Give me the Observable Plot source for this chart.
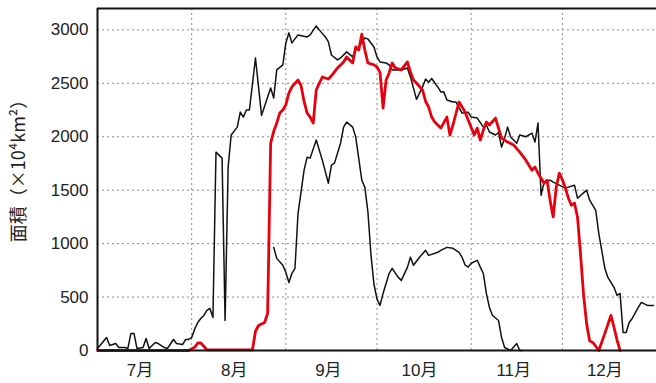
<!DOCTYPE html>
<html>
<head>
<meta charset="utf-8">
<script src="https://cdn.jsdelivr.net/npm/d3@7"></script>
<script src="https://cdn.jsdelivr.net/npm/@observablehq/plot@0.6"></script>
<style>
  html, body { margin: 0; padding: 0; background: #fff; }
</style>
</head>
<body>
<div id="chart"></div>
<script>
// ---- data ----
const yTicks = [0, 500, 1000, 1500, 2000, 2500, 3000];
const monthStarts = ["2010-08-01", "2010-09-01", "2010-10-01", "2010-11-01", "2010-12-01"];
const monthLabelDates = ["2010-07-15", "2010-08-15", "2010-09-15", "2010-10-15", "2010-11-15", "2010-12-15"];
const monthLabels = ["7月", "8月", "9月", "10月", "11月", "12月"];
const yLabel = "面積（×10⁴km²）";

// black series 1 (long season)
const seriesADates = ["07-01","07-04","07-05","07-07","07-08","07-10","07-11","07-12","07-13","07-14","07-16","07-17","07-18","07-20","07-21","07-23","07-24","07-26","07-27","07-29","07-30","07-31",
"08-01","08-02","08-03","08-04","08-05","08-06","08-07","08-08","08-09","08-11","08-12","08-13","08-14","08-16","08-17","08-18","08-19","08-20","08-22","08-24","08-26","08-27","08-28","08-29","08-31",
"09-01","09-02","09-03","09-05","09-08","09-09","09-11","09-12","09-14","09-15","09-16","09-18","09-19","09-21","09-23","09-24","09-25","09-27","09-28","09-30",
"10-01","10-02","10-04","10-05","10-06","10-07","10-09","10-11","10-12","10-14","10-16","10-17","10-18","10-19","10-21","10-22","10-23","10-24","10-26","10-27","10-29","10-30","10-31",
"11-01","11-03","11-05","11-06","11-07","11-09","11-10","11-11","11-12","11-13","11-14","11-16","11-17","11-19","11-21","11-22","11-23","11-24","11-25","11-27","11-28","11-30",
"12-02","12-05","12-06","12-09","12-10","12-12","12-13","12-15","12-16","12-18","12-19","12-20","12-21","12-22","12-23","12-24","12-26","12-27","12-29","12-31"];
const seriesAValues = [19,122,47,65,28,28,19,160,160,19,28,112,19,75,65,28,19,103,65,56,103,103,
122,200,262,300,328,375,394,309,1856,1800,281,1716,2016,2090,2231,2184,2250,2250,2737,2200,2372,2456,2362,2625,2672,
2878,2972,2878,2953,2934,2953,3037,3000,2934,2887,2765,2719,2737,2794,2747,2812,2840,2925,2915,2840,
2747,2700,2690,2672,2625,2625,2625,2644,2560,2350,2466,2540,2510,2545,2466,2419,2420,2344,2325,2325,2222,2222,2230,
2184,2175,2090,2110,2044,2016,2040,1903,1987,2090,1997,1940,2016,2000,2034,1950,2128,1453,1575,1594,1575,1547,
1519,1547,1425,1500,1406,1312,1097,769,684,591,516,534,169,169,262,300,403,450,422,422];

// black series 2 (short season)
const seriesBDates = ["08-28","08-29","08-31","09-01","09-02","09-03","09-04","09-05","09-07","09-08","09-09","09-11","09-13","09-15","09-16","09-17","09-19","09-20","09-21","09-23","09-24","09-26","09-27","09-28","09-29","09-30",
"10-01","10-02","10-03","10-05","10-06","10-08","10-09","10-11","10-12","10-13","10-15","10-17","10-18","10-21","10-22","10-24","10-26","10-28","10-29","10-30","10-31",
"11-01","11-03","11-04","11-05","11-06","11-07","11-08","11-10","11-11","11-12","11-14","11-16","11-17","11-18"];
const seriesBValues = [965,862,797,731,637,722,769,1280,1687,1809,1800,1969,1781,1565,1734,1753,1940,2090,2137,2090,1997,1594,1528,1300,900,620,
480,422,534,722,769,684,656,778,872,797,872,937,890,919,937,965,956,919,872,800,780,
816,844,780,720,534,403,330,281,122,28,0,65,0,0];

// red series
const seriesCDates = ["07-01","07-31","08-02","08-03","08-04","08-05","08-06","08-21","08-22","08-23","08-25","08-26","08-27","08-28","08-29","08-30","08-31",
"09-01","09-02","09-03","09-05","09-06","09-07","09-08","09-09","09-10","09-11","09-12","09-13","09-15","09-16","09-18","09-20","09-21","09-23","09-24","09-25","09-26","09-27","09-28","09-30",
"10-01","10-02","10-03","10-04","10-05","10-06","10-07","10-09","10-11","10-12","10-13","10-14","10-16","10-17","10-18","10-19","10-20","10-21","10-22","10-24","10-25","10-26","10-28","10-30","10-31",
"11-02","11-03","11-04","11-05","11-06","11-07","11-09","11-11","11-13","11-15","11-17","11-19","11-21","11-22","11-23","11-25","11-26","11-27","11-28","11-29","11-30",
"12-01","12-02","12-03","12-04","12-05","12-06","12-07","12-08","12-09","12-10","12-11","12-12","12-13","12-15","12-17","12-18","12-19","12-20"];
const seriesCValues = [0,0,30,70,70,40,5,5,180,234,262,347,1940,2050,2128,2222,2250,
2300,2409,2466,2531,2480,2330,2222,2184,2128,2437,2500,2559,2540,2570,2644,2700,2747,2690,2840,2812,2960,2812,2690,2672,
2653,2600,2269,2531,2597,2690,2644,2625,2700,2606,2531,2503,2437,2330,2278,2184,2137,2109,2081,2184,2016,2110,2325,2231,2156,
2016,2081,1969,2062,2137,2110,2175,1987,1950,1922,1856,1781,1687,1716,1659,1565,1594,1400,1250,1528,1659,
1600,1520,1425,1359,1380,1247,900,520,250,90,75,40,0,160,328,220,100,0];

// ---- build ----
const year = "2010-";
const parse = d3.utcParse("%Y-%m-%d");
const toRows = (dates, values) => dates.map((d, i) => ({date: parse(year + d), value: values[i]}));
const rowsA = toRows(seriesADates, seriesAValues);
const rowsB = toRows(seriesBDates, seriesBValues);
const rowsC = toRows(seriesCDates, seriesCValues);
const xDomain = [parse("2010-07-01"), parse("2011-01-01")];
const yDomain = [0, 3200];
const gridStyle = {stroke: "#8a8a8a", strokeOpacity: 1, strokeWidth: 1, strokeDasharray: "2,3"};

const chart = Plot.plot({
  width: 656,
  height: 383,
  marginTop: 8,
  marginBottom: 33,
  marginLeft: 97,
  marginRight: 0,
  style: {fontFamily: "'Liberation Sans', Arial, 'Noto Sans CJK JP', sans-serif", fontSize: "17px", background: "#fff", color: "#222"},
  x: {type: "utc", domain: xDomain},
  y: {domain: yDomain},
  marks: [
    Plot.gridY(yTicks.filter(v => v > 0), gridStyle),
    Plot.gridX(monthStarts.map(parse), gridStyle),
    Plot.axisY(yTicks, {tickSize: 0, tickPadding: 9, label: null, fontSize: 17, tickFormat: d => String(d)}),
    Plot.axisX(monthLabelDates.map(parse), {tickSize: 0, tickPadding: 13, label: null, fontSize: 17,
      tickFormat: (d, i) => monthLabels[i]}),
    Plot.text([yLabel], {frameAnchor: "left", textAnchor: "middle", dx: -78, dy: -13, rotate: -90, fontSize: 18,
      fontFamily: "'Noto Sans CJK JP', 'Liberation Sans', sans-serif", fill: "#222"}),
    Plot.line(rowsA, {x: "date", y: "value", stroke: "#111", strokeWidth: 1.5}),
    Plot.line(rowsB, {x: "date", y: "value", stroke: "#111", strokeWidth: 1.5}),
    Plot.line(rowsC, {x: "date", y: "value", stroke: "#e8000d", strokeWidth: 2.8}),
    Plot.ruleX([xDomain[0]], {stroke: "#111", strokeWidth: 2}),
    Plot.ruleY([yDomain[1]], {stroke: "#111", strokeWidth: 2}),
    Plot.ruleY([yDomain[0]], {stroke: "#111", strokeWidth: 2})
  ]
});
document.getElementById("chart").appendChild(chart);
</script>
</body>
</html>
